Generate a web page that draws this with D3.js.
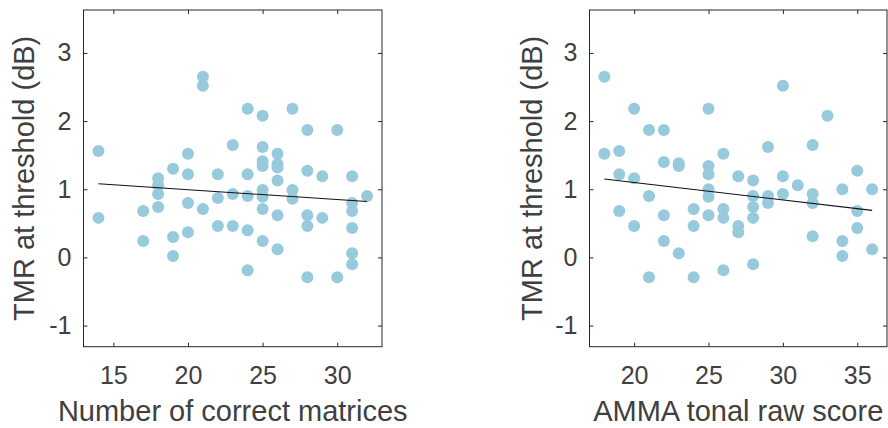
<!DOCTYPE html>
<html>
<head>
<meta charset="utf-8">
<script src="https://cdn.jsdelivr.net/npm/d3@7"></script>
<style>
body { margin: 0; background: #fff; }
text { font-family: "Liberation Sans", Arial, Helvetica, sans-serif; fill: #404040; }
</style>
</head>
<body>
<svg width="888" height="428"></svg>
<script>
// left panel: number of correct matrices vs TMR at threshold
var matricesScore = [14,14, 17,17, 18,18,18,18, 19,19,19, 20,20,20,20, 21,21,21, 22,22,22, 23,23,23,
    24,24,24,24,24, 25,25,25,25,25,25,25,25, 26,26,26,26,26,26, 27,27,27, 28,28,28,28,28,
    29,29, 30,30, 31,31,31,31,31,31, 32];
var matricesTmr = [1.56,0.58, 0.68,0.24, 1.16,1.06,0.93,0.74, 1.30,0.30,0.02, 1.52,1.22,0.80,0.37,
    2.65,2.52,0.71, 1.22,0.87,0.46, 1.65,0.93,0.46, 2.18,1.22,0.90,0.40,-0.19,
    2.08,1.62,1.41,1.34,0.99,0.89,0.71,0.24, 1.52,1.37,1.32,1.13,0.62,0.12, 2.18,0.99,0.86,
    1.87,1.27,0.62,0.46,-0.29, 1.19,0.58, 1.87,-0.29, 1.19,0.80,0.68,0.43,0.06,-0.10, 0.90];
var matricesFitX = [14, 32];
var matricesFitY = [1.08, 0.82];

// right panel: AMMA tonal raw score vs TMR at threshold
var ammaScore = [18,18, 19,19,19, 20,20,20, 21,21,21, 22,22,22,22, 23,23,23, 24,24,24,
    25,25,25,25,25,25, 26,26,26,26, 27,27,27, 28,28,28,28,28, 29,29,29, 30,30,30, 31,
    32,32,32,32, 33, 34,34,34, 35,35,35, 36,36];
var ammaTmr = [2.65,1.52, 1.56,1.22,0.68, 2.18,1.16,0.46, 1.87,0.90,-0.29, 1.87,1.40,0.62,0.24,
    1.38,1.34,0.06, 0.71,0.46,-0.29, 2.18,1.34,1.22,1.00,0.89,0.62, 1.52,0.71,0.58,-0.19,
    1.19,0.46,0.37, 1.13,0.90,0.74,0.58,-0.10, 1.62,0.90,0.80, 2.52,1.19,0.93, 1.06,
    1.65,0.93,0.80,0.31, 2.08, 1.00,0.24,0.02, 1.27,0.68,0.43, 1.00,0.12];
var ammaFitX = [18, 36];
var ammaFitY = [1.15, 0.69];

var yTicks = [-1, 0, 1, 2, 3];
var matricesTicks = [15, 20, 25, 30];
var ammaTicks = [20, 25, 30, 35];

var yLabel = 'TMR at threshold (dB)';

var svg = d3.select('svg');

var plotTop = 10, plotBottom = 346.7;

function drawPanel(left, right, xDomain, xTicks, xs, ys, fitX, fitY, xLabel, yLabelX) {
    var x = d3.scaleLinear().domain(xDomain).range([left, right]);
    var y = d3.scaleLinear().domain([-1.31, 3.63]).range([plotBottom, plotTop]);

    var g = svg.append('g');

    // points
    g.selectAll('circle')
        .data(xs)
        .enter()
        .append('circle')
        .attr('cx', function(d){ return x(d); })
        .attr('cy', function(d, i){ return y(ys[i]); })
        .attr('r', 6)
        .attr('fill', '#97cadc');

    // fit line
    var line = d3.line()
        .x(function(d){ return x(d); })
        .y(function(d, i){ return y(fitY[i]); });
    g.append('path')
        .datum(fitX)
        .attr('d', line)
        .attr('fill', 'none')
        .attr('stroke', '#111')
        .attr('stroke-width', 1.1);

    // axes, ticks pointing inward
    var xb = g.append('g').attr('transform', 'translate(0,' + plotBottom + ')')
        .call(d3.axisBottom(x).tickValues(xTicks).tickSize(-4).tickPadding(20));
    var xt = g.append('g').attr('transform', 'translate(0,' + plotTop + ')')
        .call(d3.axisTop(x).tickValues(xTicks).tickSize(-4).tickFormat(''));
    var yl = g.append('g').attr('transform', 'translate(' + left + ',0)')
        .call(d3.axisLeft(y).tickValues(yTicks).tickSize(-4).tickPadding(12));
    var yr = g.append('g').attr('transform', 'translate(' + right + ',0)')
        .call(d3.axisRight(y).tickValues(yTicks).tickSize(-4).tickFormat(''));

    [xb, xt, yl, yr].forEach(function(a){
        a.select('.domain').remove();
        a.selectAll('line').attr('stroke', '#262626');
        a.selectAll('text')
            .attr('font-family', '"Liberation Sans", Arial, sans-serif')
            .attr('font-size', 25)
            .attr('fill', '#404040');
    });
    yl.selectAll('text').text(function(d){ return d < 0 ? '-' + Math.abs(d) : d; });

    // box
    g.append('rect')
        .attr('x', left)
        .attr('y', plotTop)
        .attr('width', right - left)
        .attr('height', plotBottom - plotTop)
        .attr('fill', 'none')
        .attr('stroke', '#262626')
        .attr('stroke-width', 1);

    g.append('text')
        .attr('x', (left + right) / 2)
        .attr('y', 421)
        .attr('text-anchor', 'middle')
        .attr('font-size', 29)
        .text(xLabel);

    g.append('text')
        .attr('transform', 'translate(' + yLabelX + ',' + ((plotTop + plotBottom) / 2) + ') rotate(-90)')
        .attr('text-anchor', 'middle')
        .attr('font-size', 29)
        .text(yLabel);
}

drawPanel(83.5, 382, [13, 33], matricesTicks, matricesScore, matricesTmr,
    matricesFitX, matricesFitY, 'Number of correct matrices', 34);
drawPanel(589.5, 887, [17, 37], ammaTicks, ammaScore, ammaTmr,
    ammaFitX, ammaFitY, 'AMMA tonal raw score', 542);
</script>
</body>
</html>
